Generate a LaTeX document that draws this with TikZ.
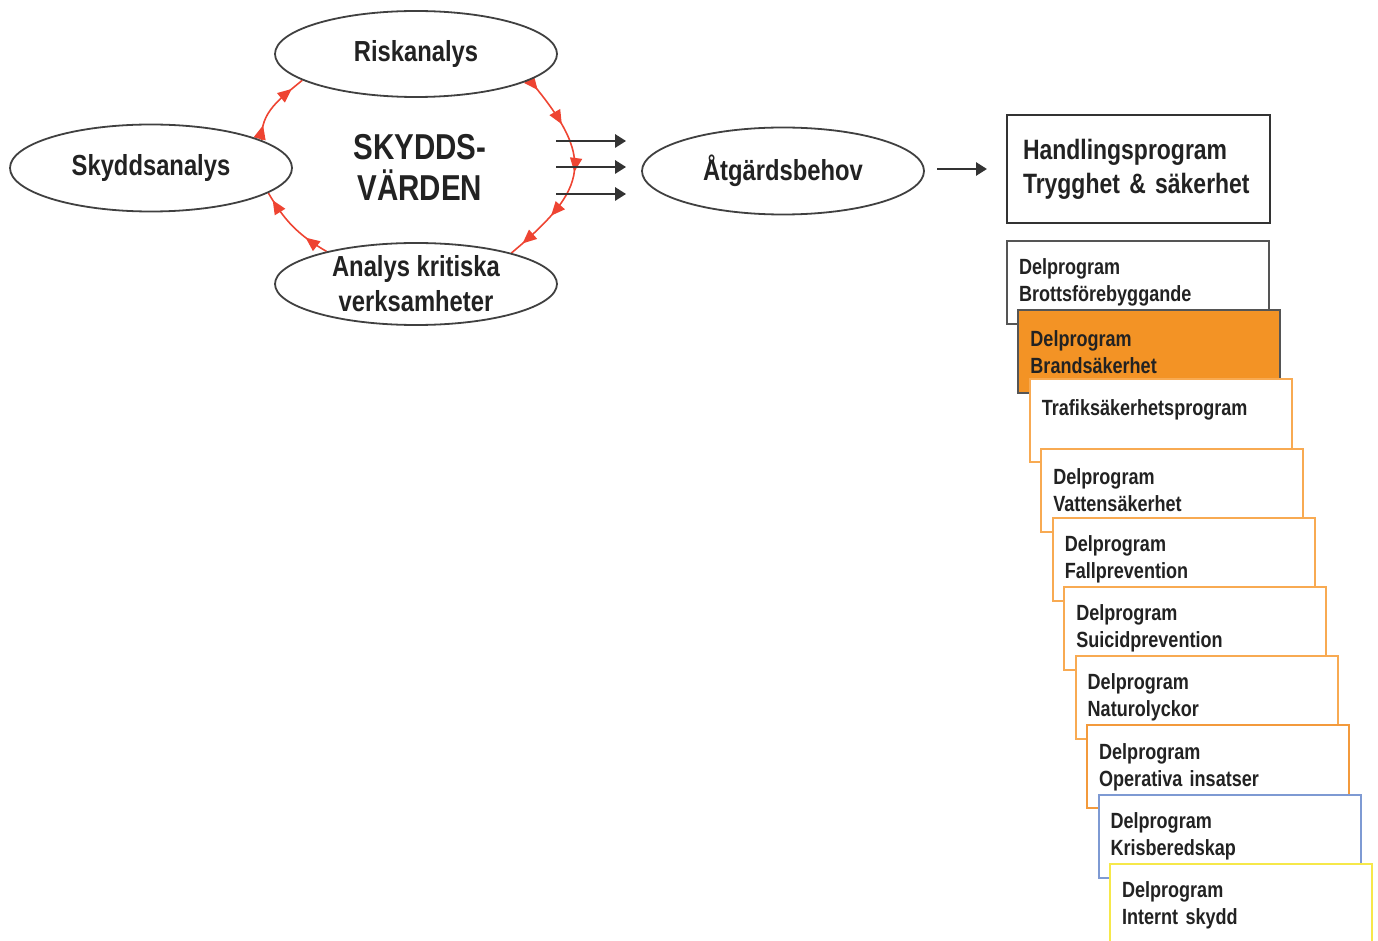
\documentclass[tikz,border=0pt]{standalone}
\usepackage{fontspec}
\setmainfont{Liberation Sans}[FakeStretch=0.82]
\usetikzlibrary{shapes.geometric,arrows.meta,decorations.markings,backgrounds}

\definecolor{redarc}{HTML}{EE4432}
\definecolor{brandfill}{HTML}{F39325}
\definecolor{orangeline}{HTML}{F8AA52}
\definecolor{darkorange}{HTML}{F39A3C}
\definecolor{blueline}{HTML}{7E9AD3}
\definecolor{yellowline}{HTML}{F6E84A}
\definecolor{grayline}{HTML}{555555}
\definecolor{textgray}{HTML}{222222}

\tikzset{
  oval/.style={ellipse, draw=black!75, line width=0.9pt, fill=white, inner sep=0pt,
    minimum width=141pt, minimum height=43pt, align=center, text=textgray,
    font=\bfseries\fontsize{14.5}{17.5}\selectfont},
  progbox/.style={rectangle, draw=#1, line width=1pt, fill=white, anchor=north west,
    minimum width=131pt, minimum height=41.5pt, text width=119pt, inner xsep=6pt,
    align=left, text=textgray, font=\bfseries\fontsize{11}{13.5}\selectfont},
  flow/.style={-{Triangle[length=5.5pt,width=6.5pt]}, line width=1.4pt, black!80},
  redtip/.style={redarc, line width=0.8pt, postaction=decorate},
  redhead/.style={decoration={markings, mark=at position #1 with {\arrow{Triangle[length=7pt,width=6pt]}}}},
}

\begin{document}
\begin{tikzpicture}[x=0.5pt,y=-0.5pt]
\clip (0,0) rectangle (1378,941);

% analysis circle
\node[oval] (risk) at (416,54) {Riskanalys};
\node[oval, minimum height=43.5pt] (skydds) at (151,168) {Skyddsanalys};
\node[oval, minimum height=41pt] (analys) at (416,284) {Analys kritiska\\verksamheter};
\node[align=center, text=textgray, font=\bfseries\fontsize{18}{20.5}\selectfont] (varden) at (420,167) {SKYDDS-\\VÄRDEN};

\begin{scope}[on background layer]
\draw[redtip, decoration={markings,
    mark=at position 0.06 with {\arrow{Triangle[length=7pt,width=6pt]}},
    mark=at position 0.26 with {\arrow{Triangle[length=7pt,width=6pt]}},
    mark=at position 0.5 with {\arrow{Triangle[length=7pt,width=6pt]}},
    mark=at position 0.74 with {\arrow{Triangle[length=7pt,width=6pt]}},
    mark=at position 0.93 with {\arrow{Triangle[length=7pt,width=6pt]}}}]
  (risk.-13) to[out=-50, in=40, looseness=1.5] (analys.18);
\draw[redtip, decoration={markings,
    mark=at position 0.3 with {\arrow{Triangle[length=7pt,width=6pt]}},
    mark=at position 0.9 with {\arrow{Triangle[length=7pt,width=6pt]}}}]
  (analys.160) to[out=150, in=-60] (skydds.-12);
\draw[redtip, decoration={markings,
    mark=at position 0.2 with {\arrow{Triangle[length=7pt,width=6pt]}},
    mark=at position 0.82 with {\arrow{Triangle[length=7pt,width=6pt]}}}]
  (skydds.14) to[out=95, in=-140] (risk.193);
\end{scope}

\node[oval, minimum height=43.5pt] (atgard) at (783,171) {Åtgärdsbehov};
\foreach \dy in {15,2,-11.5}
  \draw[flow] ([shift={(-42.5pt,\dy pt)}]atgard.west) -- ([shift={(-7.5pt,\dy pt)}]atgard.west);

\node[rectangle, draw=black!80, line width=1pt, anchor=north west, minimum width=131.5pt,
  minimum height=54pt, text width=115.5pt, inner xsep=8pt, align=left, text=textgray,
  font=\bfseries\fontsize{14}{17}\selectfont] (plan) at (1006,114)
  {Handlingsprogram\\Trygghet \& säkerhet};
\draw[flow] ([xshift=-34.5pt]plan.west) -- ([xshift=-9.5pt]plan.west);

% delprogram stack
\foreach \i/\nm/\fc/\col/\lines in {
  0/brott/white/grayline/{Delprogram\\Brottsförebyggande},
  1/brand/brandfill/grayline/{Delprogram\\Brandsäkerhet},
  2/trafik/white/orangeline/{Trafiksäkerhetsprogram\\\mbox{}},
  3/vatten/white/orangeline/{Delprogram\\Vattensäkerhet},
  4/fall/white/orangeline/{Delprogram\\Fallprevention},
  5/suicid/white/orangeline/{Delprogram\\Suicidprevention},
  6/natur/white/orangeline/{Delprogram\\Naturolyckor},
  7/operativ/white/darkorange/{Delprogram\\Operativa insatser},
  8/kris/white/blueline/{Delprogram\\Krisberedskap},
  9/internt/white/yellowline/{Delprogram\\Internt skydd}}
  \node[progbox=\col, fill=\fc] (\nm) at ({1006+11.45*\i},{240+69.2*\i}) {\lines};

\end{tikzpicture}
\end{document}
